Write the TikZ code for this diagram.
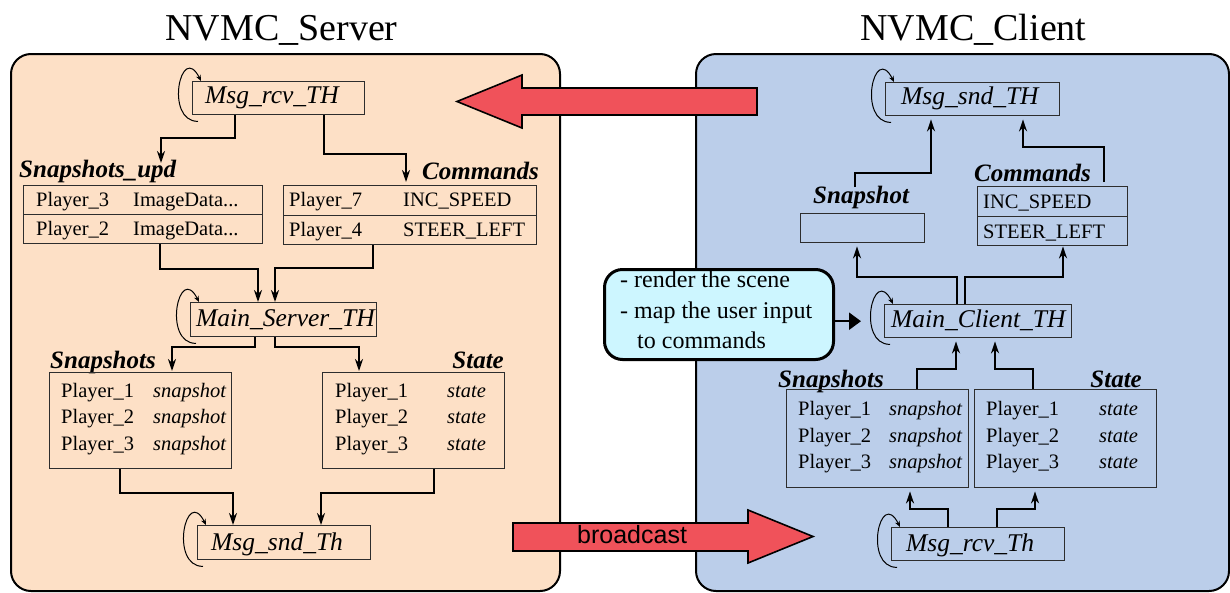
\documentclass[tikz,border=0pt]{standalone}
\usepackage{fontspec}
\setmainfont{Liberation Serif}
\newfontfamily\sansf{Liberation Sans}
\usetikzlibrary{arrows.meta,calc}
\definecolor{srvfill}{RGB}{253,224,198}
\definecolor{clifill}{RGB}{187,206,234}
\definecolor{callfill}{RGB}{205,246,255}
\definecolor{redarrow}{RGB}{240,82,90}
\definecolor{boxline}{RGB}{45,45,45}
\begin{document}
\begin{tikzpicture}[x=1pt,y=-1pt,
  panel/.style={draw=black,line width=2pt,rounded corners=20pt,anchor=north west,inner sep=0pt},
  tbox/.style={draw=boxline,line width=1.4pt,anchor=north west,inner sep=0pt},
  thr/.style={font=\fontsize{25.5}{28}\selectfont\itshape,anchor=base west,inner sep=0pt},
  hdr/.style={font=\fontsize{25}{28}\selectfont\bfseries\itshape,anchor=base west,inner sep=0pt},
  hdre/.style={hdr,anchor=base east},
  row/.style={font=\fontsize{20.5}{24}\selectfont,anchor=base west,inner sep=0pt},
  rowi/.style={font=\fontsize{20.5}{24}\selectfont\itshape,anchor=base west,inner sep=0pt},
  calltext/.style={font=\fontsize{24}{28}\selectfont,anchor=base west,inner sep=0pt},
  conn/.style={line width=2.4pt,-{Stealth[length=12pt,width=8pt]}},
  loopl/.style={line width=1pt,-{Stealth[length=6pt,width=5pt]}},
  bigarrow/.style={draw=black,line width=1.6pt,fill=redarrow,line join=miter}
]
\useasboundingbox (0,0) rectangle (1230,592);
\fill[white] (0,0) rectangle (1230,592);

% titles
\node[font=\fontsize{38}{40}\selectfont,anchor=base,inner sep=0pt] (tS) at (281.5,40) {NVMC\_Server};
\node[font=\fontsize{38}{40}\selectfont,anchor=base,inner sep=0pt] (tC) at (973.5,40) {NVMC\_Client};

% panels
\node[panel,fill=srvfill,minimum width=549,minimum height=537] (srv) at (10,53) {};
\node[panel,fill=clifill,minimum width=533,minimum height=537] (cli) at (695,53) {};

% big red arrows
\draw[bigarrow] (757,88) -- (522,88) -- (522,75) -- (457,101.5) -- (522,128) -- (522,115) -- (757,115) -- cycle;
\draw[bigarrow] (513,523) -- (748,523) -- (748,510) -- (813,536.5) -- (748,563) -- (748,551) -- (513,551) -- cycle;
\node[font=\sansf\fontsize{25}{28}\selectfont,anchor=base west,inner sep=0pt] (bc) at (577,543) {broadcast};

% ================= SERVER =================
\node[tbox,minimum width=172,minimum height=33] (rcvS) at (192,81) {};
\node[thr] (rcvSt) at (205,103) {Msg\_rcv\_TH};

\node[hdr] (updL) at (19,177) {Snapshots\_upd};
\node[tbox,minimum width=239,minimum height=58] (updT) at (23,185) {};
\draw[boxline,line width=1.4pt] (updT.west) -- (updT.east);
\node[row] (u1a) at (36,206) {Player\_3};
\node[row] (u1b) at (133,206) {ImageData...};
\node[row] (u2a) at (36,235) {Player\_2};
\node[row] (u2b) at (133,235) {ImageData...};

\node[hdr] (cmdL) at (422,179) {Commands};
\node[tbox,minimum width=253,minimum height=59] (cmdT) at (283,185) {};
\draw[boxline,line width=1.4pt] (cmdT.west) -- (cmdT.east);
\node[row] (c1a) at (289,206) {Player\_7};
\node[row] (c1b) at (403,206) {INC\_SPEED};
\node[row] (c2a) at (289,236) {Player\_4};
\node[row] (c2b) at (403,236) {STEER\_LEFT};

\node[tbox,minimum width=186,minimum height=34] (mainS) at (190,302) {};
\node[thr] (mainSt) at (196,326) {Main\_Server\_TH};

\node[hdr] (snapsL) at (50,368) {Snapshots};
\node[tbox,minimum width=182,minimum height=96] (snapS) at (49,372) {};
\node[hdre] (stateL) at (504,368) {State};
\node[tbox,minimum width=182,minimum height=96] (stateS) at (322,372) {};
\foreach \i/\y in {1/397,2/423,3/450}{
  \node[row] (ssp\i) at (61,\y) {Player\_\i};
  \node[rowi] (sss\i) at (153,\y) {snapshot};
  \node[row] (stp\i) at (335,\y) {Player\_\i};
  \node[rowi] (sts\i) at (447,\y) {state};
}

\node[tbox,minimum width=173,minimum height=34] (sndS) at (197,525) {};
\node[thr] (sndSt) at (211,550) {Msg\_snd\_Th};

% server connectors
\draw[conn] ($(rcvS.south west)+(43,0)$) |- (161,138) -- ($(updT.north west)+(138,-22)$);
\draw[conn] ($(rcvS.south west)+(132,0)$) |- (406,154) -- ($(cmdT.north west)+(123,-3)$);
\draw[conn] ($(updT.south west)+(137,0)$) |- (258,269) -- ($(mainS.north west)+(68,0)$);
\draw[conn] ($(cmdT.south west)+(90,0)$) |- (275,268) -- ($(mainS.north west)+(85,0)$);
\draw[conn] ($(mainS.south west)+(65,0)$) |- (172,347) -- ($(snapS.north west)+(123,-1)$);
\draw[conn] ($(mainS.south west)+(85,0)$) |- (359,347) -- ($(stateS.north west)+(37,-1)$);
\draw[conn] ($(snapS.south west)+(71,0)$) |- (233,493) -- ($(sndS.north west)+(36,0)$);
\draw[conn] ($(stateS.south west)+(112,0)$) |- (321,493) -- ($(sndS.north west)+(124,0)$);

% ================= CLIENT =================
\node[tbox,minimum width=174,minimum height=33] (sndC) at (885,82) {};
\node[thr] (sndCt) at (901,104) {Msg\_snd\_TH};

\node[hdr] (snapL) at (813,203) {Snapshot};
\node[tbox,minimum width=124,minimum height=29] (snapC) at (800,213) {};

\node[hdr] (cmdCL) at (974,181) {Commands};
\node[tbox,minimum width=150,minimum height=59] (cmdC) at (977,186) {};
\draw[boxline,line width=1.4pt] (cmdC.west) -- (cmdC.east);
\node[row] (cc1) at (983,208) {INC\_SPEED};
\node[row] (cc2) at (983,238) {STEER\_LEFT};

\node[tbox,minimum width=187,minimum height=33] (mainC) at (884,304) {};
\node[thr] (mainCt) at (891,327) {Main\_Client\_TH};

\node[draw=black,line width=3pt,rounded corners=18pt,fill=callfill,anchor=north west,inner sep=0pt,minimum width=229,minimum height=90] (call) at (603,268) {};
\node[calltext] (ct1) at (620,287) {- render the scene};
\node[calltext] (ct2) at (620,318) {- map the user input};
\node[calltext] (ct3) at (637,348) {to commands};
\draw[line width=2.4pt,-{Triangle[length=12pt,width=17pt]}] (call.east |- mainC.west) -- ($(mainC.west)+(-23,0)$);

\node[hdr] (snapsCL) at (778,387) {Snapshots};
\node[tbox,minimum width=182,minimum height=98] (snapsC) at (786,389) {};
\node[hdre] (stateCL) at (1142,387) {State};
\node[tbox,minimum width=182,minimum height=98] (stateC) at (974,389) {};
\foreach \i/\y in {1/415,2/442,3/468}{
  \node[row] (csp\i) at (798,\y) {Player\_\i};
  \node[rowi] (css\i) at (889,\y) {snapshot};
  \node[row] (ctp\i) at (986,\y) {Player\_\i};
  \node[rowi] (cts\i) at (1099,\y) {state};
}

\node[tbox,minimum width=173,minimum height=33] (rcvC) at (891,527) {};
\node[thr] (rcvCt) at (906,551) {Msg\_rcv\_Th};

% client connectors
\draw[conn] ($(snapC.north west)+(55,-26)$) |- (931,173) -- ($(sndC.south west)+(46,3)$);
\draw[conn] ($(cmdC.north west)+(127,-4)$) |- (1023,147) -- ($(sndC.south west)+(138,3)$);
\draw[conn] ($(mainC.north west)+(73,0)$) |- (857,277) -- ($(snapC.south west)+(57,3)$);
\draw[conn] ($(mainC.north west)+(81,0)$) |- (1063,277) -- ($(cmdC.south west)+(86,0)$);
\draw[conn] ($(snapsC.north west)+(131,0)$) |- (956,369) -- ($(mainC.south west)+(72,3)$);
\draw[conn] ($(stateC.north west)+(59,0)$) |- (995,369) -- ($(mainC.south west)+(111,3)$);
\draw[conn] ($(rcvC.north west)+(57,0)$) |- (910,509) -- ($(snapsC.south west)+(124,3)$);
\draw[conn] ($(rcvC.north west)+(106,0)$) |- (1035,509) -- ($(stateC.south west)+(61,3)$);

% self loops
\foreach \b in {rcvS,mainS,sndS,sndC,mainC,rcvC}{
  \draw[loopl] ($(\b.south west)+(6,6)$) .. controls +(-34,0) and +(-20,-40) .. ($(\b.north west)+(9,0)$);
}
\end{tikzpicture}
\end{document}
